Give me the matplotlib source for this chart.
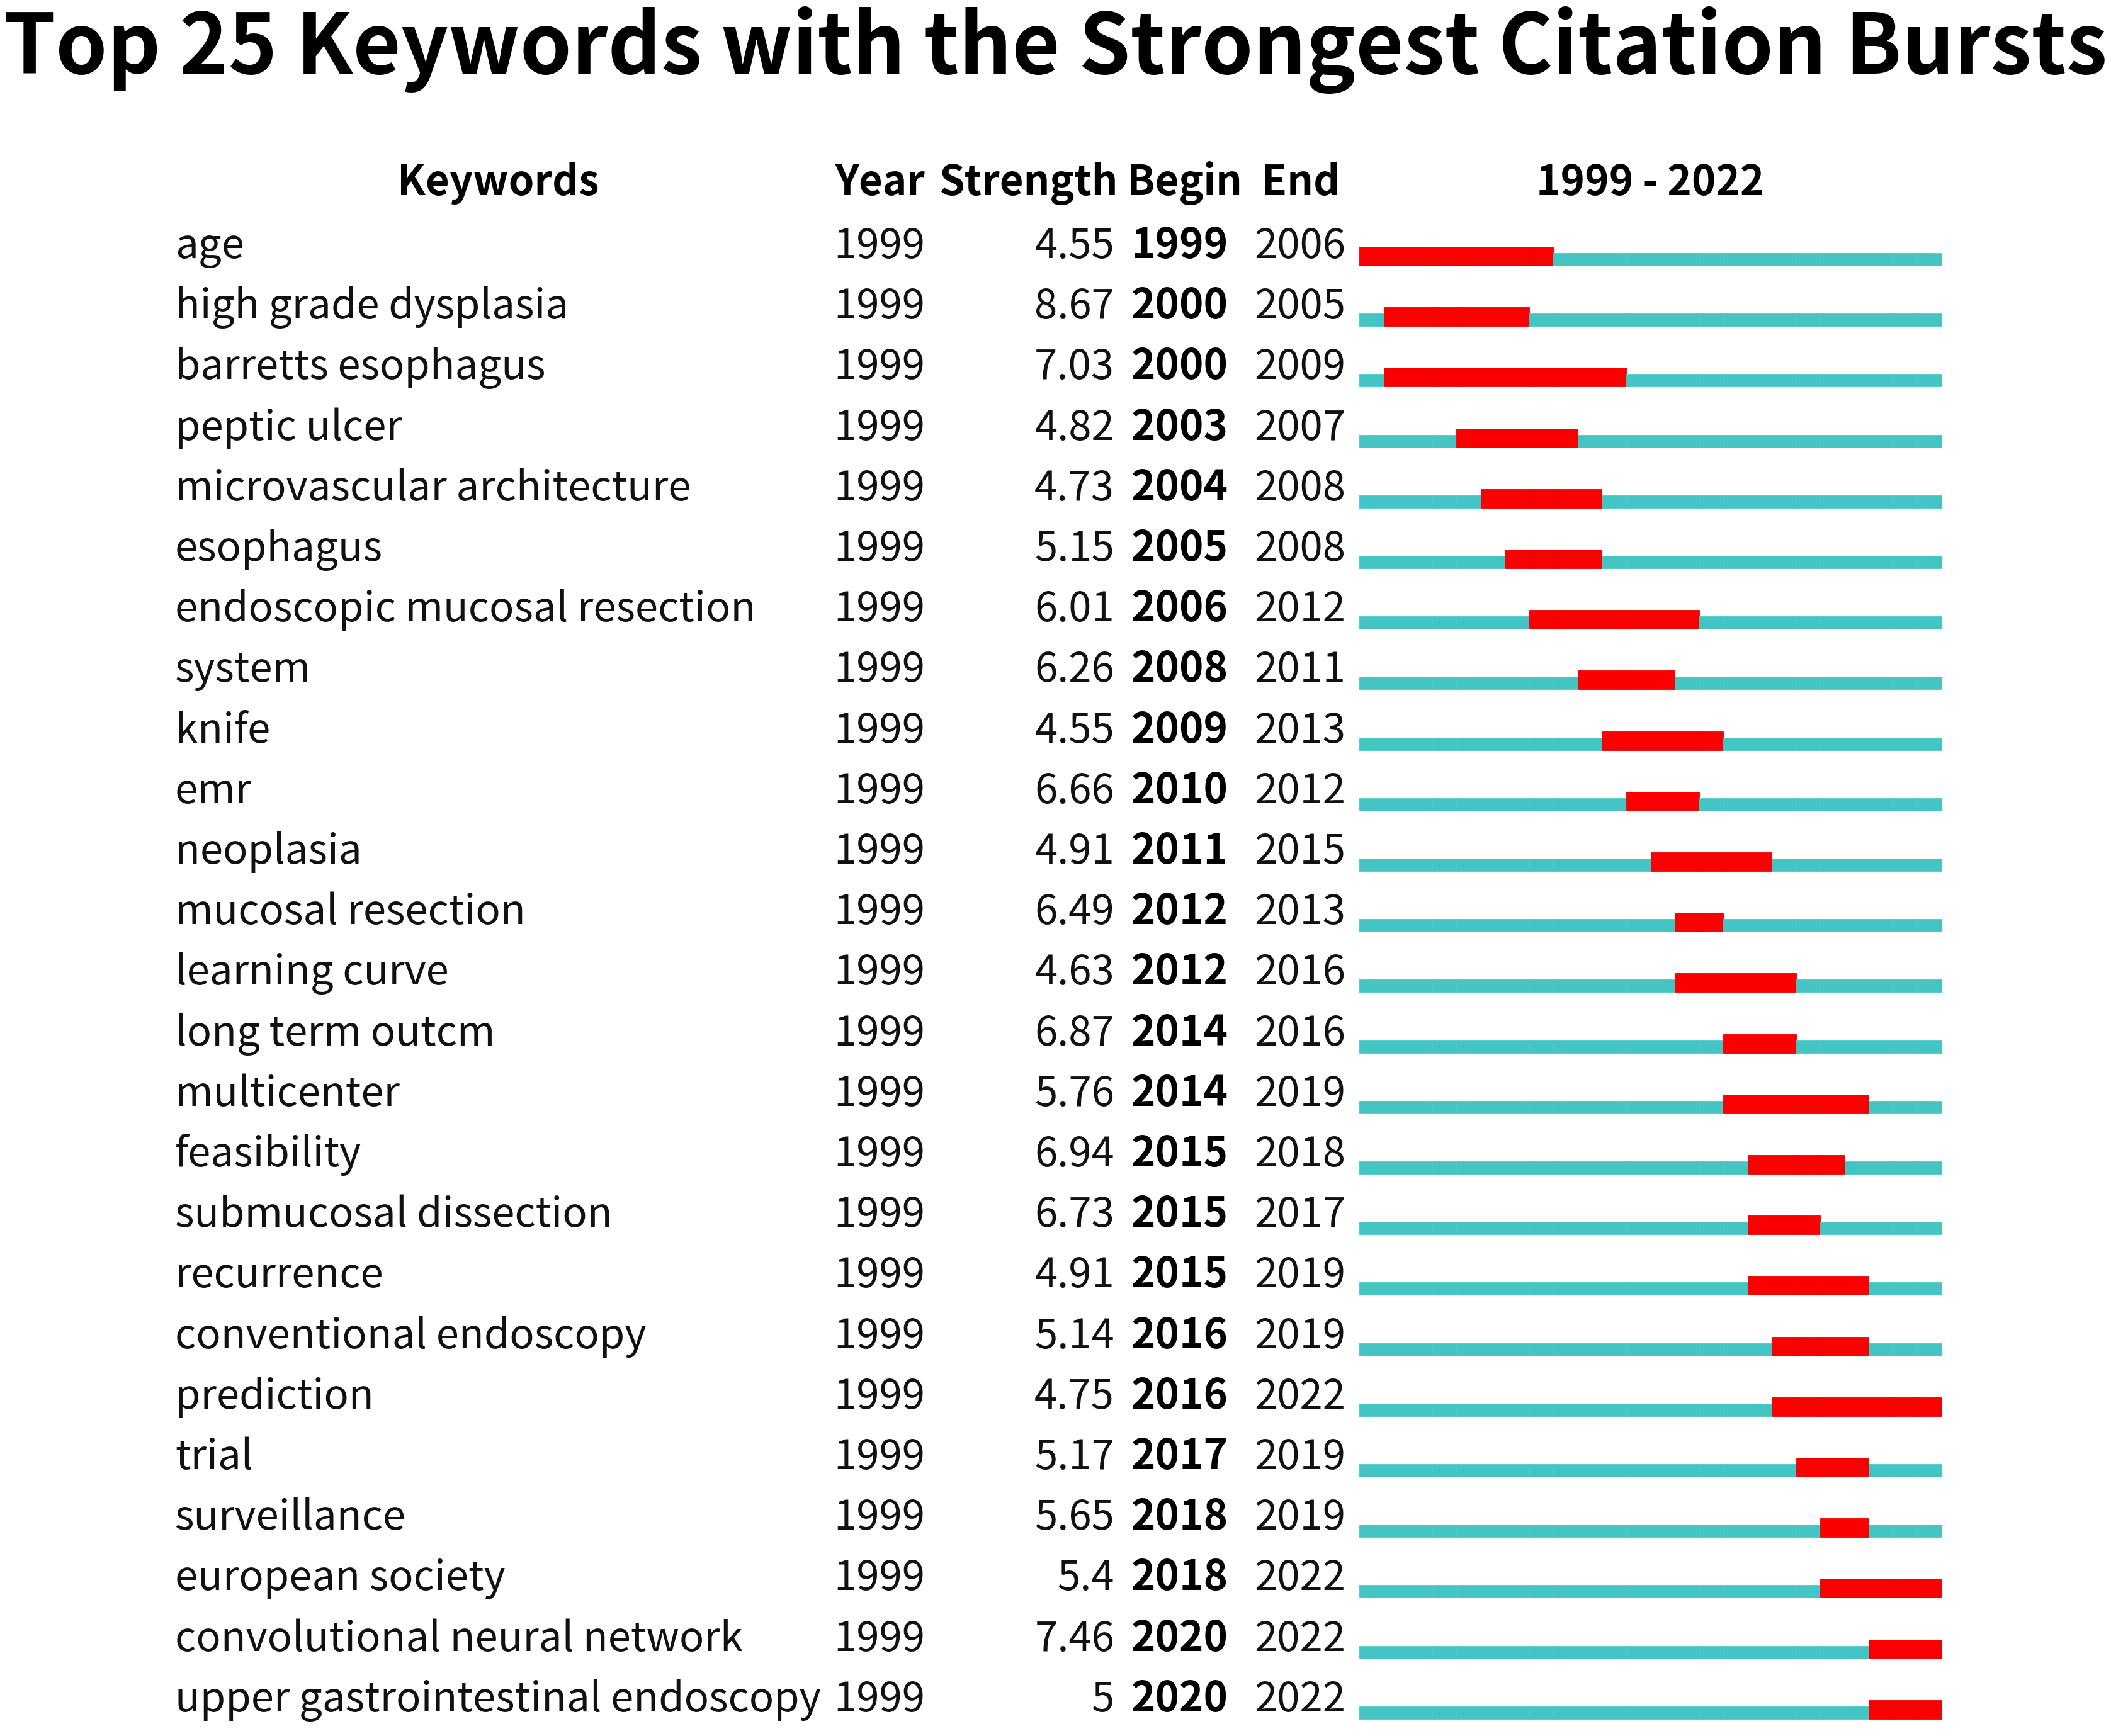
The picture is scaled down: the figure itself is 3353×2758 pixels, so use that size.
import matplotlib
matplotlib.use("Agg")
import matplotlib.pyplot as plt
import matplotlib.transforms as mtransforms

keywords = ["age", "high grade dysplasia", "barretts esophagus", "peptic ulcer",
            "microvascular architecture", "esophagus", "endoscopic mucosal resection",
            "system", "knife", "emr", "neoplasia", "mucosal resection", "learning curve",
            "long term outcm", "multicenter", "feasibility", "submucosal dissection",
            "recurrence", "conventional endoscopy", "prediction", "trial", "surveillance",
            "european society", "convolutional neural network",
            "upper gastrointestinal endoscopy"]
year = [1999] * 25
strength = [4.55, 8.67, 7.03, 4.82, 4.73, 5.15, 6.01, 6.26, 4.55, 6.66, 4.91, 6.49, 4.63,
            6.87, 5.76, 6.94, 6.73, 4.91, 5.14, 4.75, 5.17, 5.65, 5.4, 7.46, 5]
begin = [1999, 2000, 2000, 2003, 2004, 2005, 2006, 2008, 2009, 2010, 2011, 2012, 2012,
         2014, 2014, 2015, 2015, 2015, 2016, 2016, 2017, 2018, 2018, 2020, 2020]
end = [2006, 2005, 2009, 2007, 2008, 2008, 2012, 2011, 2013, 2012, 2015, 2013, 2016,
       2016, 2019, 2018, 2017, 2019, 2019, 2022, 2019, 2019, 2022, 2022, 2022]
first_year, last_year = 1999, 2022

W, H = 3353, 2758
RED = "#FA0000"
TEAL = "#45C4C4"
plt.rcParams["font.family"] = ["Noto Sans CJK SC", "DejaVu Sans"]

fig = plt.figure(figsize=(W / 100, H / 100), dpi=100)
renderer = fig.canvas.get_renderer()

# row units: one row = 96.2 px, row 0 baseline at 410 px from top
row_h = 96.2
y_top = -410 / row_h
y_bot = (H - 410) / row_h

ax = fig.add_axes([2159 / W, 0, (3084 - 2159) / W, 1])
ax.set_xlim(first_year, last_year + 1)
ax.set_ylim(y_bot, y_top)
ax.axis("off")

trans = mtransforms.blended_transform_factory(fig.transFigure, ax.transData)


def fx(px):
    return px / W


# fit body text size to longest keyword width
probe = fig.text(0, 0, keywords[-1], fontsize=48)
wpx = probe.get_window_extent(renderer).width
probe.remove()
fs = 48 * 1026 / wpx

# bars
for i in range(len(keywords)):
    for yr in range(first_year, last_year + 1):
        inside = begin[i] <= yr <= end[i]
        if inside:
            ax.barh(i - 3 / row_h, 1, left=yr, height=30 / row_h, color=RED,
                    edgecolor="#EE0000", linewidth=0.6)
        else:
            ax.barh(i + 2 / row_h, 1, left=yr, height=20 / row_h, color=TEAL,
                    edgecolor="#4CC8C8", linewidth=0.6)

# table text
for i in range(len(keywords)):
    fig.text(fx(278), i, keywords[i], transform=trans, fontsize=fs,
             ha="left", va="baseline", color="#111111")
    fig.text(fx(1397), i, str(year[i]), transform=trans, fontsize=fs,
             ha="center", va="baseline", color="#111111")
    fig.text(fx(1770), i, "{:g}".format(strength[i]), transform=trans, fontsize=fs,
             ha="right", va="baseline", color="#111111")
    fig.text(fx(1874), i, str(begin[i]), transform=trans, fontsize=fs,
             ha="center", va="baseline", weight="bold", color="#000000")
    fig.text(fx(2065), i, str(end[i]), transform=trans, fontsize=fs,
             ha="center", va="baseline", color="#111111")

# header
hy = (310 - 410) / row_h
headers = [("Keywords", 791), ("Year", 1398), ("Strength", 1633),
           ("Begin", 1881), ("End", 2066), ("%d - %d" % (first_year, last_year), 2621)]
for label, cx in headers:
    fig.text(fx(cx), hy, label, transform=trans, fontsize=fs, ha="center",
             va="baseline", weight="bold", color="#000000")

# title, fitted to the figure width
title = "Top 25 Keywords with the Strongest Citation Bursts"
t = fig.text(fx(6), 1 - 117 / H, title, fontsize=100, weight="bold",
             ha="left", va="baseline")
tw = t.get_window_extent(renderer).width
t.set_fontsize(100 * 3340 / tw)

fig.savefig("out.png", dpi=100, facecolor="white")
